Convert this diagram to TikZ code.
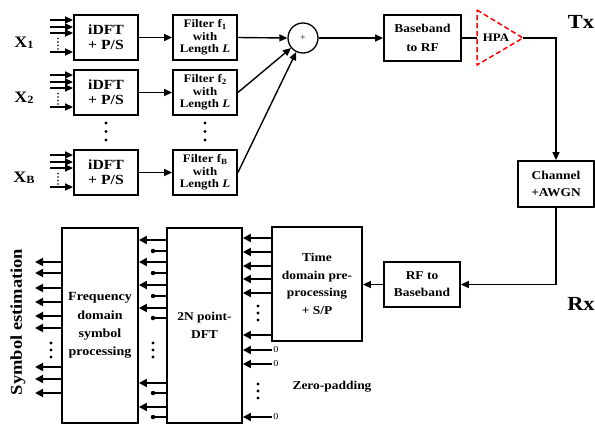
\documentclass[tikz,border=0pt]{standalone}
\usepackage{fontspec}
\setmainfont[FakeStretch=1.12]{Liberation Serif}
\usetikzlibrary{arrows.meta}
\newcommand{\mysub}[1]{\raisebox{-0.3ex}{\fontsize{8}{8}\selectfont #1}}
\newcommand{\fsz}[2]{\fontsize{#1}{#2}\selectfont}
\tikzset{
  box/.style={draw, line width=1.8pt, inner sep=0pt, align=center, font=\bfseries\fsz{12}{17}},
  arr/.style={line width=1.4pt, -{Triangle[length=8pt,width=7pt]}},
  barr/.style={line width=1.9pt, -{Triangle[length=8pt,width=8pt]}},
  ln/.style={line width=1.4pt},
  bln/.style={line width=1.9pt},
  dotn/.style={circle, fill, inner sep=0pt, minimum size=3.2pt},
  tinydot/.style={circle, fill, inner sep=0pt, minimum size=1.6pt},
  lbl/.style={font=\bfseries\fsz{16}{16}, inner sep=0pt},
}
\begin{document}
\begin{tikzpicture}[x=1pt,y=-1pt]
\useasboundingbox (0,0) rectangle (595,425);

% ---------------- transmitter branches ----------------
\foreach \i/\yc/\s/\lab in {1/37.5/1/1, 2/92.5/2/2, 3/172.5/B/B} {
  \node[box, minimum width=64pt, minimum height=45pt, font=\bfseries\fsz{14}{15}] (idft\i) at (106,\yc) {iDFT\\+ P/S};
  \node[box, minimum width=64pt, minimum height=45pt, font=\bfseries\fsz{11.5}{12.5}] (filt\i) at (205,\yc) {Filter f\mysub{\s}\\with\\Length \textit{L}};
  \draw[arr] (idft\i) -- (filt\i);
  \foreach \dy [count=\j] in {-17.5,-10.5,-4.5,14.5} {
    \coordinate (in\i\j) at (50,\yc+\dy);
    \draw[arr] (in\i\j) -- (idft\i.west |- in\i\j);
  }
  \foreach \dy in {1,4.5,8,11.5} { \node[tinydot] at (58,\yc+\dy) {}; }
  \node[lbl] (x\i) at (24,\yc+5.5) {X\raisebox{-0.2ex}{\fsz{11}{11}\lab}};
}
\foreach \y in {123,131.5,140} {
  \node[dotn] at (106,\y) {};
  \node[dotn] at (205,\y) {};
}

% ---------------- summer and RF chain ----------------
\node[circle, draw, line width=1.3pt, minimum size=30pt, inner sep=0pt, font=\fsz{9}{9}] (sum) at (303,38) {+};
\draw[arr] (filt1.east) -- (sum.west);
\draw[arr] (filt2.east) -- (sum);
\draw[arr] (filt3.east) -- (sum);

\node[box, minimum width=77pt, minimum height=46pt, font=\bfseries\fsz{12}{19}] (bb2rf) at (422.5,38) {Baseband\\to RF};
\draw[arr] (sum.east) -- (bb2rf.west);

\coordinate (hpaL) at (477,38);
\coordinate (hpaT) at (523,38);
\draw[red, dashed, dash pattern=on 5pt off 3pt, line width=1.5pt] (477,10) -- (hpaT) -- (477,65) -- cycle;
\node[font=\bfseries\fsz{11.5}{11.5}, inner sep=0pt] (hpa) at (496,38) {HPA};
\draw[ln] (bb2rf.east) -- (hpaL);

\node[lbl, font=\bfseries\fsz{20}{20}] (tx) at (581,22) {Tx};

\node[box, minimum width=76pt, minimum height=46pt] (channel) at (556,184) {Channel\\+AWGN};
\draw[arr] (hpaT) -| (channel.north);

\node[box, minimum width=76pt, minimum height=45pt] (rf2bb) at (422,284.5) {RF to\\Baseband};
\draw[arr] (channel.south) |- (rf2bb.east);

\node[lbl, font=\bfseries\fsz{20}{20}] (rx) at (581,304) {Rx};

% ---------------- receiver ----------------
\node[box, minimum width=90pt, minimum height=114pt, font=\bfseries\fsz{12}{17.5}] (tdom) at (317,284) {Time\\domain pre-\\processing\\+ S/P};
\draw[arr] (rf2bb.west) -- (tdom.east |- rf2bb.west);

\node[box, minimum width=75pt, minimum height=195pt, font=\bfseries\fsz{12}{18}] (dft) at (204.5,325.5) {2N point-\\DFT};
\node[box, minimum width=76pt, minimum height=195pt, font=\bfseries\fsz{12.5}{18.3}] (freq) at (100,325.5) {Frequency\\domain\\symbol\\processing};

% time domain -> DFT
\foreach \y in {238,252,266,279,293,335} {
  \draw[barr] (tdom.west |- 0,\y) -- (dft.east |- 0,\y);
}
\foreach \y in {306,313,320} { \node[dotn] at (258,\y) {}; }

% zero padding
\foreach \y [count=\k] in {350,364,417} {
  \node[font=\fsz{9}{9}, inner sep=1.5pt] (z\k) at (276,\y) {0};
  \draw[barr] (z\k.west) -- (dft.east |- z\k);
}
\foreach \y in {384,391,398} { \node[dotn] at (258,\y) {}; }
\node[font=\bfseries\fsz{12}{12}, inner sep=0pt] (zp) at (332,387) {Zero-padding};

% DFT -> frequency domain processing
\foreach \y in {240,262,285,308,383,407} {
  \draw[barr] (dft.west |- 0,\y) -- (freq.east |- 0,\y);
}
\foreach \y [count=\k] in {251,273,296,318,393,417} {
  \node[dotn, minimum size=4.5pt] (p\k) at (153,\y) {};
  \draw[bln] (dft.west |- p\k) -- (p\k);
}
\foreach \y in {343,350,357} { \node[dotn] at (153,\y) {}; }

% symbol outputs
\foreach \y [count=\k] in {262,273,288,302,316,328,367,379,393} {
  \coordinate (o\k) at (35,\y);
  \draw[barr] (freq.west |- o\k) -- (o\k);
}
\foreach \y in {343,350,357} { \node[dotn] at (51,\y) {}; }

\node[rotate=90, font=\bfseries\fsz{16.5}{16.5}, inner sep=0pt] (symest) at (18,322) {Symbol estimation};
\end{tikzpicture}
\end{document}
